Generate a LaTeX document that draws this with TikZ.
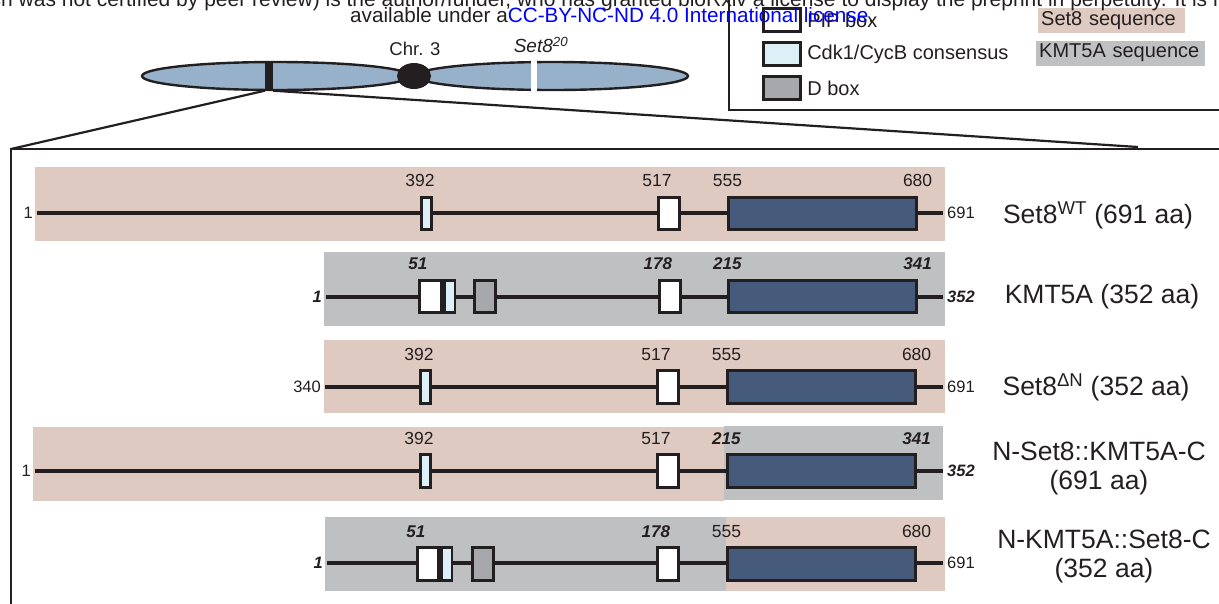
\documentclass[tikz,border=0pt]{standalone}
\usepackage{fontspec}
\setmainfont{Liberation Sans}
\usetikzlibrary{positioning}

\definecolor{ink}{HTML}{231F20}
\definecolor{set8bg}{HTML}{DFCAC1}
\definecolor{kmtbg}{HTML}{BFC0C2}
\definecolor{setdom}{HTML}{465A7C}
\definecolor{cdkfill}{HTML}{DDF0F7}
\definecolor{dboxfill}{HTML}{A7A8AB}
\definecolor{chrfill}{HTML}{97B1CB}
\definecolor{linkblue}{HTML}{0000FF}

\tikzset{
  dom/.style={draw=ink, line width=2.8pt, inner sep=0pt, minimum height=32.4pt},
  pip/.style={dom, fill=white, minimum width=21.4pt},
  cdk/.style={dom, fill=cdkfill, minimum width=10.4pt},
  dbox/.style={dom, fill=dboxfill, minimum width=21.4pt},
  setdomain/.style={dom, fill=setdom, minimum width=187.4pt},
  num/.style={inner sep=0pt, text=ink, font=\fontsize{17.5}{20}\selectfont},
  knum/.style={num, font=\fontsize{17}{20}\selectfont\bfseries\itshape},
  endnum/.style={inner sep=0pt, inner xsep=4pt, text=ink, font=\fontsize{16.5}{19}\selectfont},
  kend/.style={endnum, font=\fontsize{16.5}{19}\selectfont\bfseries\itshape},
  backbone/.style={draw=ink, line width=3.2pt},
  construct/.style={text=ink, align=center, font=\fontsize{26.5}{29}\selectfont},
  keybox/.style={dom, minimum width=37.4pt, minimum height=23.4pt},
  keytext/.style={inner sep=0pt, anchor=west, text=ink, font=\fontsize{20}{22}\selectfont},
  seqkey/.style={anchor=west, inner sep=0pt, inner xsep=3pt, minimum height=25pt, align=left, text=ink, font=\fontsize{20}{22}\selectfont},
  outline/.style={draw=ink, line width=2.8pt},
}

\begin{document}
\begin{tikzpicture}[x=1pt, y=-1pt]
\useasboundingbox (0,0) rectangle (1219,603);
\clip (0,0) rectangle (1219,603);

% chromosome 3 with the Set8 locus
\draw[draw=ink, line width=2.4pt, fill=chrfill] (552,76) ellipse [x radius=136, y radius=14];
\draw[draw=ink, line width=2.4pt, fill=chrfill] (276,76) ellipse [x radius=134, y radius=14];
\fill[ink] (414,76) ellipse [x radius=17, y radius=13];
\node[fill=ink, inner sep=0pt, minimum width=8pt, minimum height=29pt] (band) at (269,76) {};
\fill[white] (531,59) rectangle (537,93);
\node[text=ink, font=\fontsize{18.5}{20}\selectfont] (chr) at (415,49) {Chr. 3};
\node[text=ink, font=\fontsize{19}{20}\selectfont] (allele) at (541,45) {\textit{Set8}\textsuperscript{\textit{20}}};

% zoom frame
\coordinate (fcorner) at (11,149);
\coordinate (zoomend) at (1138,147);
\draw[outline] (11,610) -- (fcorner) -- (1230,149);
\draw[draw=ink, line width=2.2pt] (band.south west) -- (fcorner);
\draw[draw=ink, line width=2.2pt] (band.south east) -- (zoomend);

% legend
\draw[outline] (729,-5) |- (1230,110);
\node[keybox, fill=white] (pipkey) at (782,20) {};
\node[keybox, fill=cdkfill] (cdkkey) at (782,54) {};
\node[keybox, fill=dboxfill] (dkey) at (782,88) {};
\node[keytext, right=5pt of pipkey] (piptext) {PIP box};
\node[keytext, right=5pt of cdkkey] (cdktext) {Cdk1/CycB consensus};
\node[keytext, right=5pt of dkey] (dtext) {D box};
\node[seqkey, fill=set8bg, text width=141pt] (set8key) at (1038,20.5) {Set8 sequence};
\node[seqkey, fill=kmtbg, text width=163pt] (kmtkey) at (1036,53) {KMT5A sequence};

% Set8 wild type
\fill[set8bg] (35,167) rectangle (945,241);
\node[endnum, anchor=east] (wtN) at (37,213) {1};
\node[endnum, anchor=west] (wtC) at (943,213) {691};
\draw[backbone] (wtN) -- (wtC);
\node[cdk] (wtcdk) at (426.5,213.5) {};
\node[pip] (wtpip) at (669,213.5) {};
\node[setdomain] (wtset) at (822.5,213.5) {};
\node[num, above=9pt of wtcdk.north west] {392};
\node[num, above=9pt of wtpip.north west] {517};
\node[num, above=9pt of wtset.north west] {555};
\node[num, above=9pt of wtset.north east] {680};
\node[construct] (wtname) at (1098,215) {Set8\textsuperscript{WT} (691 aa)};

% KMT5A
\fill[kmtbg] (324,252) rectangle (945,326);
\node[kend, anchor=east] (kmN) at (326,297) {1};
\node[kend, anchor=west] (kmC) at (943,297) {352};
\draw[backbone] (kmN) -- (kmC);
\node[pip, minimum width=22.4pt] (kmpip) at (430.5,296.5) {};
\node[cdk, right=0pt of kmpip] (kmcdk) {};
\node[dbox] (kmd) at (485,296.5) {};
\node[pip] (kmpipb) at (670,296.5) {};
\node[setdomain] (kmset) at (822.5,296.5) {};
\node[knum, above=9pt of kmpip.north west] {51};
\node[knum, above=9pt of kmpipb.north west] {178};
\node[knum, above=9pt of kmset.north west] {215};
\node[knum, above=9pt of kmset.north east] {341};
\node[construct] (kmname) at (1102,297) {KMT5A (352 aa)};

% Set8 lacking the N-terminus
\fill[set8bg] (324,340) rectangle (945,413);
\node[endnum, anchor=east] (dnN) at (325,387) {340};
\node[endnum, anchor=west] (dnC) at (943,387) {691};
\draw[backbone] (dnN) -- (dnC);
\node[cdk] (dncdk) at (425.5,387) {};
\node[pip] (dnpip) at (668,387) {};
\node[setdomain] (dnset) at (821.5,387) {};
\node[num, above=9pt of dncdk.north west] {392};
\node[num, above=9pt of dnpip.north west] {517};
\node[num, above=9pt of dnset.north west] {555};
\node[num, above=9pt of dnset.north east] {680};
\node[construct] (dnname) at (1096,387) {Set8\textsuperscript{ΔN} (352 aa)};

% N-Set8::KMT5A-C
\fill[set8bg] (33,427) rectangle (724,501);
\fill[kmtbg] (724,426) rectangle (943,500);
\node[endnum, anchor=east] (skN) at (35,471) {1};
\node[kend, anchor=west] (skC) at (943,471) {352};
\draw[backbone] (skN) -- (skC);
\node[cdk] (skcdk) at (425.5,471) {};
\node[pip] (skpip) at (668,471) {};
\node[setdomain] (skset) at (821.5,471) {};
\node[num, above=9pt of skcdk.north west] {392};
\node[num, above=9pt of skpip.north west] {517};
\node[knum, above=9pt of skset.north west] {215};
\node[knum, above=9pt of skset.north east] {341};
\node[construct] (skname) at (1099,468) {N-Set8::KMT5A-C\\(691 aa)};

% N-KMT5A::Set8-C
\fill[kmtbg] (325,517) rectangle (726,591);
\fill[set8bg] (726,517) rectangle (945,591);
\node[kend, anchor=east] (ksN) at (327,563) {1};
\node[endnum, anchor=west] (ksC) at (943,563) {691};
\draw[backbone] (ksN) -- (ksC);
\node[pip] (kspip) at (428,564) {};
\node[cdk, right=0pt of kspip] (kscdk) {};
\node[dbox] (ksd) at (483,564) {};
\node[pip] (kspipb) at (668,564) {};
\node[setdomain] (ksset) at (821.5,564) {};
\node[knum, above=9pt of kspip.north west] {51};
\node[knum, above=9pt of kspipb.north west] {178};
\node[num, above=9pt of ksset.north west] {555};
\node[num, above=9pt of ksset.north east] {680};
\node[construct] (ksname) at (1104,556) {N-KMT5A::Set8-C\\(352 aa)};

% preprint notice
\node[anchor=base west, inner sep=0pt, text=ink, font=\fontsize{21}{22}\selectfont] (note1) at (-48,6) {(which was not certified by peer review) is the author/funder, who has granted bioRxiv a license to display the preprint in perpetuity. It is made};
\node[anchor=base west, inner sep=0pt, text=ink, font=\fontsize{20.7}{22}\selectfont] (note2) at (350,22) {available under a\textcolor{linkblue}{CC-BY-NC-ND 4.0 International license}.};
\end{tikzpicture}
\end{document}
